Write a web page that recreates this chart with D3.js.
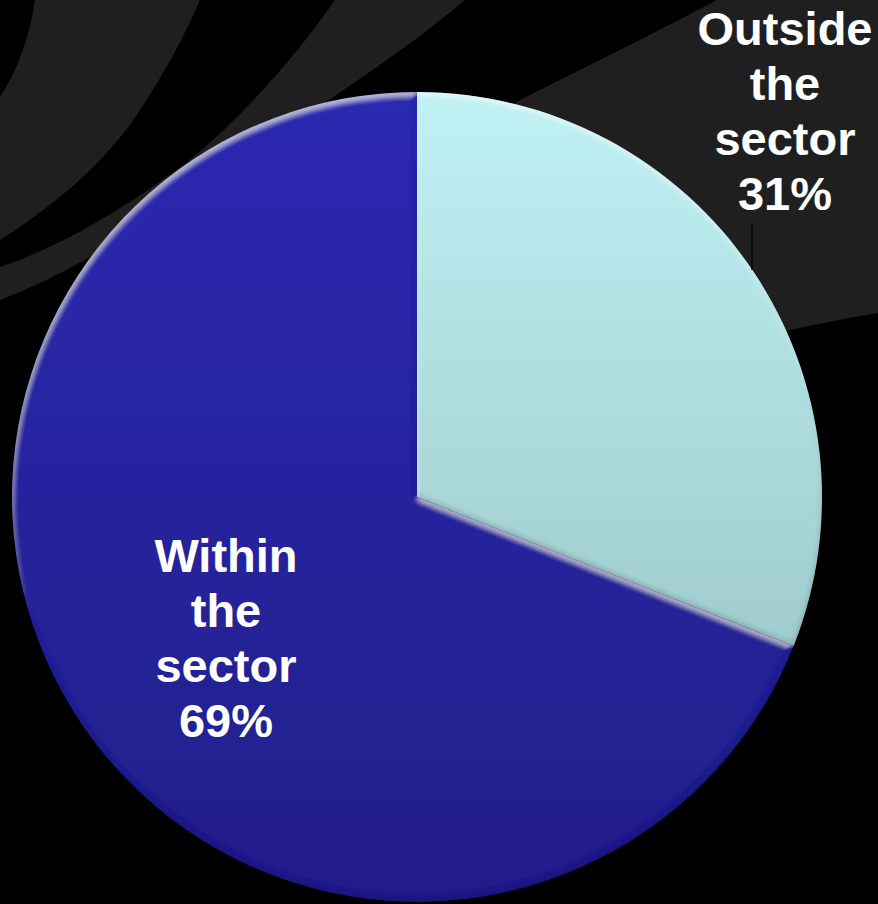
<!DOCTYPE html>
<html>
<head>
<meta charset="utf-8">
<script src="https://cdn.jsdelivr.net/npm/d3@7"></script>
<style>
  html, body { margin: 0; padding: 0; background: #000; }
  svg { display: block; }
</style>
</head>
<body>
<svg id="chart" width="878" height="904"></svg>
<script>
// Share of activity by location
const categories = ["Outside the sector", "Within the sector"];
const values = [31, 69];
const labelLines = [["Outside", "the", "sector"], ["Within", "the", "sector"]];

const W = 878, H = 904;
const cx = 417, cy = 497, R = 405;

const svg = d3.select("#chart");
const defs = svg.append("defs");

// Fill gradients for the two slices (top to bottom over the pie's box, local coords)
const grads = [
  { id: "gOut", top: "#c0f1f4", bottom: "#91bbbe" },
  { id: "gIn",  top: "#2c29b2", bottom: "#211e8a" }
];
grads.forEach(g => {
  const lg = defs.append("linearGradient")
    .attr("id", g.id)
    .attr("gradientUnits", "userSpaceOnUse")
    .attr("x1", 0).attr("y1", -R)
    .attr("x2", 0).attr("y2", R);
  lg.append("stop").attr("offset", 0).attr("stop-color", g.top);
  lg.append("stop").attr("offset", 1).attr("stop-color", g.bottom);
});

// Soft bevel: the difference of two shifted blurs of the slice's alpha gives
// a light rim on edges facing up and a dark rim on edges facing down.
const f = defs.append("filter").attr("id", "bevel")
  .attr("x", "-5%").attr("y", "-5%").attr("width", "110%").attr("height", "110%");
f.append("feGaussianBlur").attr("in", "SourceAlpha").attr("stdDeviation", 2.5).attr("result", "blur");
f.append("feOffset").attr("in", "blur").attr("dx", 0.8).attr("dy", 3.5).attr("result", "fromAbove");
f.append("feOffset").attr("in", "blur").attr("dx", -0.8).attr("dy", -3.5).attr("result", "fromBelow");
f.append("feComposite").attr("in", "fromBelow").attr("in2", "fromAbove")
  .attr("operator", "arithmetic").attr("k1", 0).attr("k2", 1).attr("k3", -1).attr("k4", 0).attr("result", "hiRaw");
f.append("feComposite").attr("in", "fromAbove").attr("in2", "fromBelow")
  .attr("operator", "arithmetic").attr("k1", 0).attr("k2", 1).attr("k3", -1).attr("k4", 0).attr("result", "shRaw");
f.append("feFlood").attr("flood-color", "#ffffff").attr("flood-opacity", 0.5).attr("result", "hiCol");
f.append("feComposite").attr("in", "hiCol").attr("in2", "hiRaw").attr("operator", "in").attr("result", "hiC");
f.append("feComposite").attr("in", "hiC").attr("in2", "SourceAlpha").attr("operator", "in").attr("result", "hi");
f.append("feFlood").attr("flood-color", "#000000").attr("flood-opacity", 0.35).attr("result", "shCol");
f.append("feComposite").attr("in", "shCol").attr("in2", "shRaw").attr("operator", "in").attr("result", "shC");
f.append("feComposite").attr("in", "shC").attr("in2", "SourceAlpha").attr("operator", "in").attr("result", "sh");
const merge = f.append("feMerge");
merge.append("feMergeNode").attr("in", "SourceGraphic");
merge.append("feMergeNode").attr("in", "hi");
merge.append("feMergeNode").attr("in", "sh");

// Background: black with dark grey sweeping bands
svg.append("rect").attr("width", W).attr("height", H).attr("fill", "#000");
const bg = svg.append("g").attr("fill", "#1f1f1f");
bg.append("path").attr("d",
  "M35,0 C30,35 18,70 0,97 L0,240 C45,212 105,165 140,110 C165,72 185,35 200,0 Z");
bg.append("path").attr("d",
  "M335,0 C300,50 250,110 190,160 C130,205 65,245 0,267 L0,300 C80,270 160,215 240,160 C320,105 400,55 465,0 Z");
bg.append("path").attr("d",
  "M717,0 L878,0 L878,313 C800,326 720,345 640,370 L420,440 L420,150 C460,135 495,115 520,100 C600,60 670,25 717,0 Z");

// Pie
const pie = d3.pie().sort(null).value(d => d.value);
const arc = d3.arc().innerRadius(0).outerRadius(R);
const data = pie(categories.map((c, i) => ({ name: c, value: values[i] })));

const g = svg.append("g").attr("transform", `translate(${cx},${cy})`);
g.selectAll("path.slice")
  .data(data)
  .join("path")
  .attr("class", "slice")
  .attr("d", arc)
  .attr("fill", (d, i) => `url(#${grads[i].id})`)
  .attr("filter", "url(#bevel)");

// Labels
const fontSize = 47, lineH = 55;
const labelPos = [
  { x: 785, y: 45 },   // Outside the sector
  { x: 226, y: 572 }   // Within the sector
];
data.forEach((d, i) => {
  const lines = labelLines[i].concat([d3.format(".0f")(d.data.value) + "%"]);
  const t = svg.append("text")
    .attr("x", labelPos[i].x)
    .attr("y", labelPos[i].y)
    .attr("text-anchor", "middle")
    .attr("fill", "#ffffff")
    .attr("font-family", "'Liberation Sans', Arial, sans-serif")
    .attr("font-weight", "bold")
    .attr("font-size", fontSize);
  lines.forEach((ln, k) => {
    t.append("tspan").attr("x", labelPos[i].x).attr("dy", k === 0 ? 0 : lineH).text(ln);
  });
});

// Leader line from the outside label towards its slice
svg.append("line")
  .attr("x1", 752).attr("y1", 225)
  .attr("x2", 752).attr("y2", 270)
  .attr("stroke", "#000").attr("stroke-width", 1.5);
</script>
</body>
</html>
